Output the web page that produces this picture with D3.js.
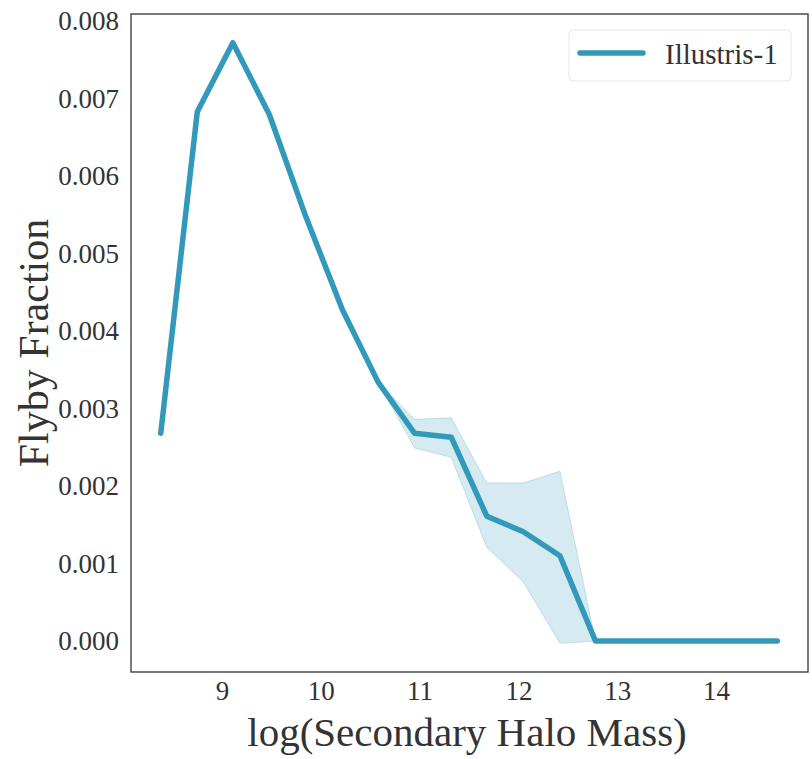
<!DOCTYPE html>
<html>
<head>
<meta charset="utf-8">
<script src="https://cdn.jsdelivr.net/npm/d3@7"></script>
<style>
  html, body { margin: 0; padding: 0; background: #fff; }
  svg { display: block; }
  text { font-family: "Liberation Serif", "DejaVu Serif", serif; fill: #333; }
</style>
</head>
<body>
<svg id="chart" width="812" height="759"></svg>
<script>
// Bin centres, log10 of secondary halo mass
const logMass = [8.38, 8.75, 9.11, 9.48, 9.85, 10.22, 10.58, 10.95, 11.32, 11.68,
                 12.05, 12.42, 12.78, 13.15, 13.52, 13.88, 14.25, 14.62];
// Flyby fraction per bin
const flybyFraction = [0.00268, 0.00683, 0.00772, 0.00679, 0.00547, 0.00427, 0.00334, 0.00268, 0.00263, 0.00161,
                       0.00141, 0.00110, 0.0, 0.0, 0.0, 0.0, 0.0, 0.0];
// Spread across realisations
const lowerBound = [0.00268, 0.00683, 0.00772, 0.00679, 0.00547, 0.00427, 0.00334, 0.00249, 0.00237, 0.00121,
                    0.00076, -0.00003, 0.0, 0.0, 0.0, 0.0, 0.0, 0.0];
const upperBound = [0.00268, 0.00683, 0.00772, 0.00679, 0.00547, 0.00427, 0.00334, 0.00286, 0.00288, 0.00204,
                    0.00204, 0.00219, 0.0, 0.0, 0.0, 0.0, 0.0, 0.0];
const xTicks = [9, 10, 11, 12, 13, 14];
const yTicks = [0.000, 0.001, 0.002, 0.003, 0.004, 0.005, 0.006, 0.007, 0.008];
const seriesName = "Illustris-1";

const color = "#3399bb";
const svg = d3.select("#chart");
const plot = { left: 131, top: 14, right: 808, bottom: 672 };

const x = d3.scaleLinear().domain([8.079, 14.931]).range([plot.left, plot.right]);
const y = d3.scaleLinear().domain([-0.0004, 0.00809]).range([plot.bottom, plot.top]);

const rows = logMass.map((m, i) => ({ m, v: flybyFraction[i], lo: lowerBound[i], hi: upperBound[i] }));

// Shaded spread
svg.append("path")
  .datum(rows)
  .attr("d", d3.area().x(d => x(d.m)).y0(d => y(d.lo)).y1(d => y(d.hi)))
  .attr("fill", color).attr("fill-opacity", 0.2)
  .attr("stroke", color).attr("stroke-opacity", 0.25).attr("stroke-width", 1);

// Main line
svg.append("path")
  .datum(rows)
  .attr("d", d3.line().x(d => x(d.m)).y(d => y(d.v)))
  .attr("fill", "none").attr("stroke", color)
  .attr("stroke-width", 5.5).attr("stroke-linecap", "round").attr("stroke-linejoin", "round");

// Axes (labels only, no tick marks)
const xAxis = svg.append("g")
  .attr("transform", `translate(0,${plot.bottom})`)
  .call(d3.axisBottom(x).tickValues(xTicks).tickSize(0).tickPadding(8).tickFormat(d3.format("d")));
xAxis.select(".domain").remove();
xAxis.selectAll("text").attr("font-size", 27).attr("dy", "0.75em")
  .style("font-family", "'Liberation Serif', serif").attr("fill", "#333");

const yAxis = svg.append("g")
  .attr("transform", `translate(${plot.left},0)`)
  .call(d3.axisLeft(y).tickValues(yTicks).tickSize(0).tickPadding(12).tickFormat(d3.format(".3f")));
yAxis.select(".domain").remove();
yAxis.selectAll("text").attr("font-size", 27)
  .style("font-family", "'Liberation Serif', serif").attr("fill", "#333");

// Frame
svg.append("rect")
  .attr("x", plot.left).attr("y", plot.top)
  .attr("width", plot.right - plot.left).attr("height", plot.bottom - plot.top)
  .attr("fill", "none").attr("stroke", "#333").attr("stroke-width", 1.3);

// Axis titles
svg.append("text")
  .attr("x", 467).attr("y", 746)
  .attr("text-anchor", "middle").attr("font-size", 41)
  .text("log(Secondary Halo Mass)");

svg.append("text")
  .attr("transform", `translate(48,${(plot.top + plot.bottom) / 2}) rotate(-90)`)
  .attr("text-anchor", "middle").attr("font-size", 42)
  .text("Flyby Fraction");

// Legend
const lg = svg.append("g");
lg.append("rect")
  .attr("x", 569).attr("y", 30).attr("width", 222).attr("height", 51)
  .attr("rx", 4).attr("fill", "#fff").attr("stroke", "#e6e6e6").attr("stroke-width", 1);
lg.append("line")
  .attr("x1", 580).attr("x2", 643).attr("y1", 53).attr("y2", 53)
  .attr("stroke", color).attr("stroke-width", 5.5).attr("stroke-linecap", "round");
lg.append("text")
  .attr("x", 665).attr("y", 64).attr("font-size", 29)
  .text(seriesName);
</script>
</body>
</html>
